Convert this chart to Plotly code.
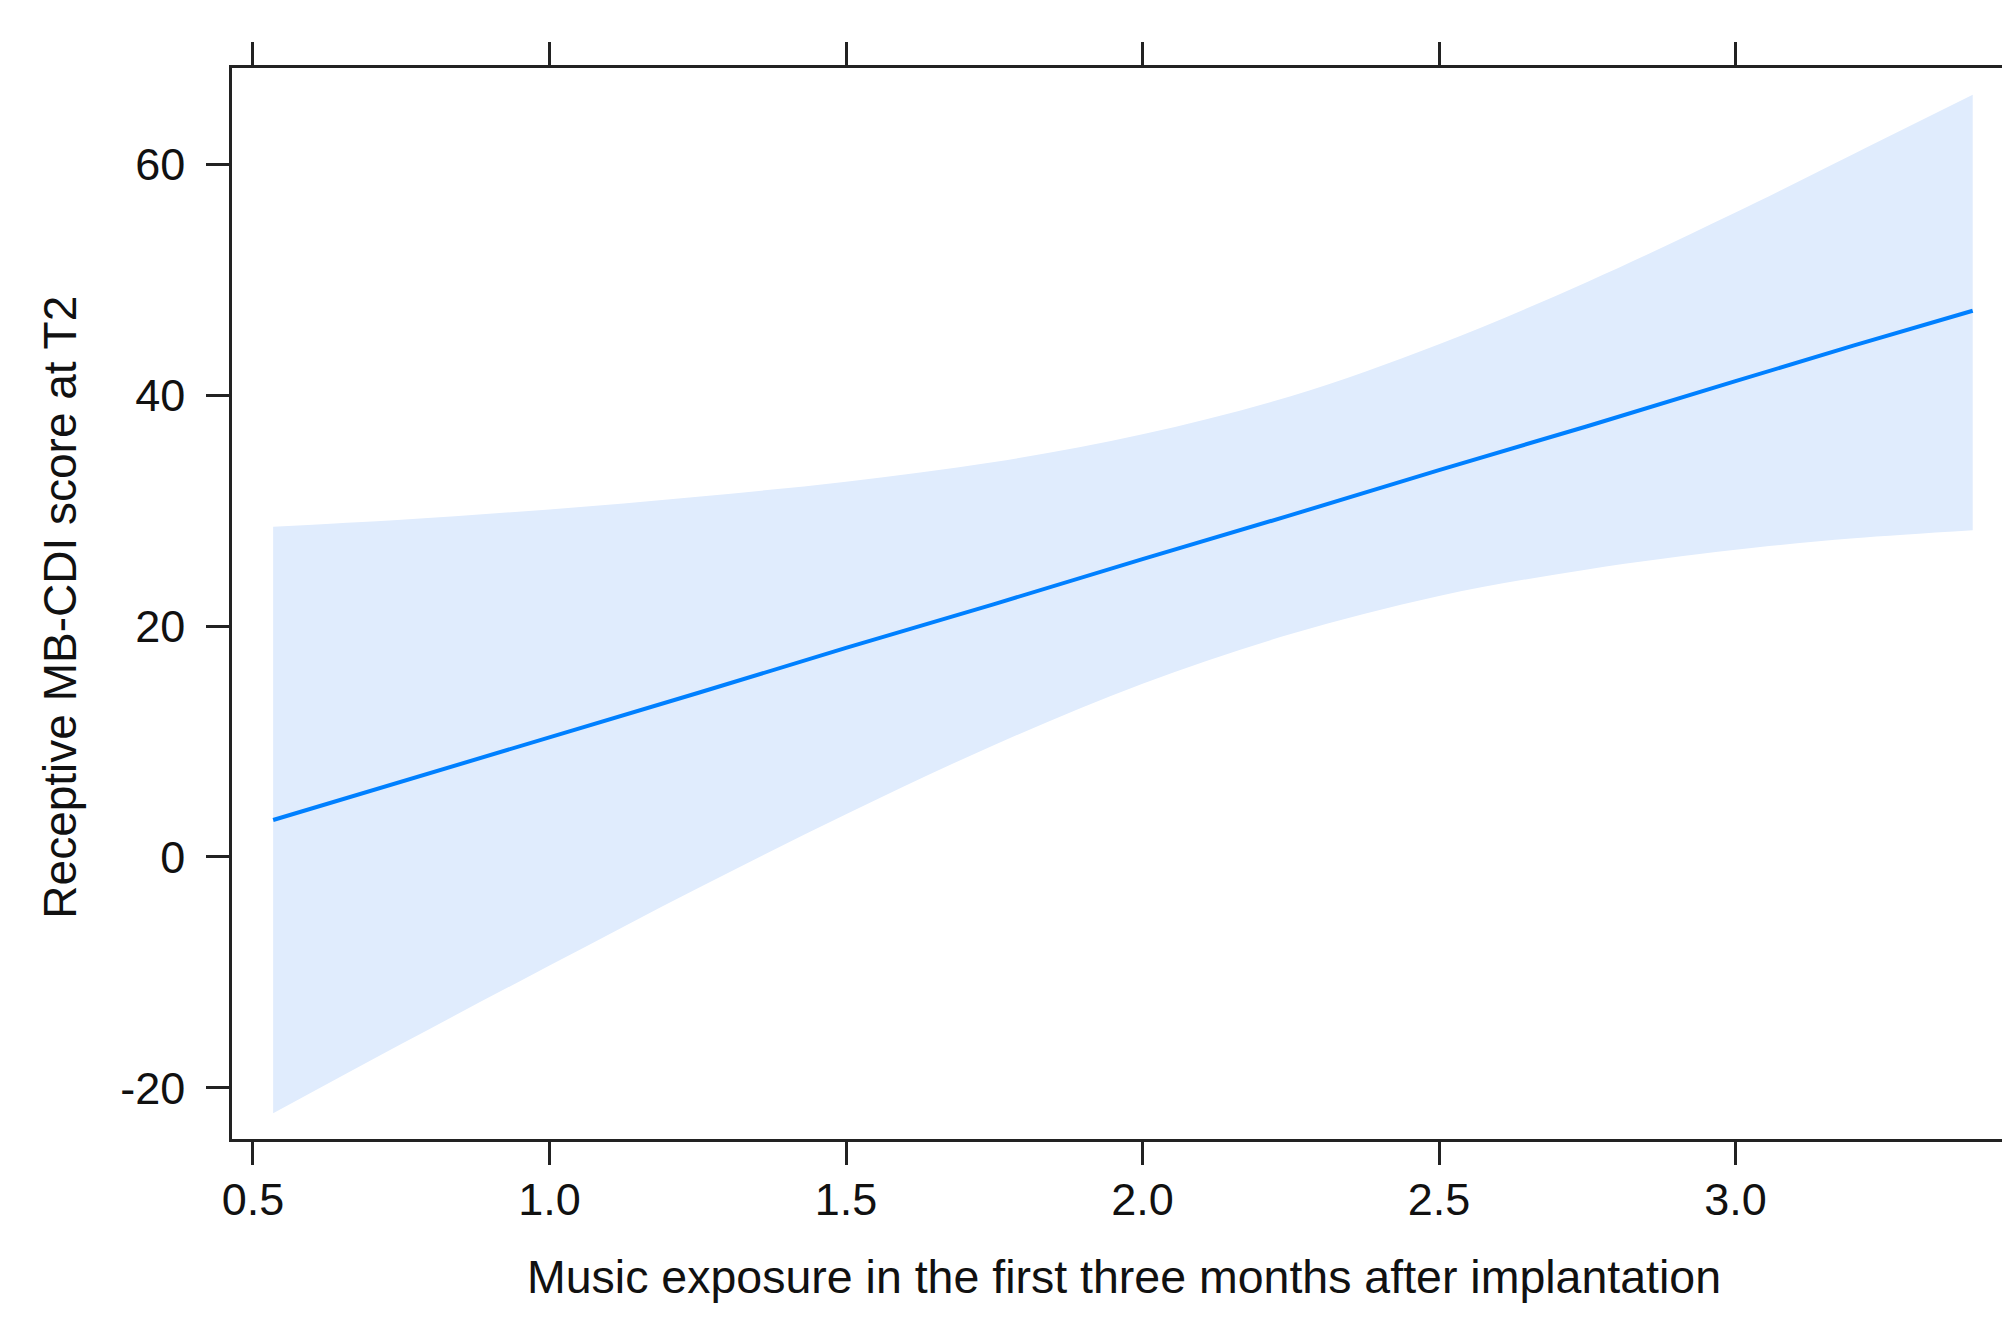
import plotly.graph_objects as go

# Data
x_vals = [0.534, 0.75, 1.0, 1.25, 1.5, 1.75, 2.0, 2.25, 2.5, 2.75, 3.0, 3.2, 3.40]
fit = [3.2, 6.5, 10.4, 14.2, 18.1, 21.9, 25.8, 29.6, 33.5, 37.3, 41.2, 44.3, 47.3]
upper = [28.6, 29.2, 30.1, 31.2, 32.5, 34.2, 36.6, 39.9, 44.4, 49.8, 55.8, 60.9, 66.0]
lower = [-22.2, -16.2, -9.4, -2.7, 3.7, 9.7, 15.0, 19.3, 22.6, 24.9, 26.6, 27.6, 28.3]

x_ticks = [0.5, 1.0, 1.5, 2.0, 2.5, 3.0]
x_tick_text = ["0.5", "1.0", "1.5", "2.0", "2.5", "3.0"]
y_ticks = [-20, 0, 20, 40, 60]
y_tick_text = ["-20", "0", "20", "40", "60"]

x_title = "Music exposure in the first three months after implantation"
y_title = "Receptive MB-CDI score at T2"

FONT = "Liberation Sans, Arial, Helvetica, sans-serif"
AX = "#222222"
TXT = "#111111"

fig = go.Figure()
fig.add_trace(go.Scatter(x=x_vals, y=lower, mode="lines", line=dict(width=0, shape="spline"),
                         hoverinfo="skip", showlegend=False))
fig.add_trace(go.Scatter(x=x_vals, y=upper, mode="lines", line=dict(width=0, shape="spline"),
                         fill="tonexty", fillcolor="rgb(224,236,253)",
                         hoverinfo="skip", showlegend=False))
fig.add_trace(go.Scatter(x=x_vals, y=fit, mode="lines", line=dict(color="#0080FF", width=4),
                         showlegend=False))

fig.update_layout(
    width=2002, height=1319, autosize=False,
    margin=dict(l=232, r=0, t=68, b=180),
    paper_bgcolor="white", plot_bgcolor="white",
    font=dict(family=FONT, size=45, color=TXT),
    xaxis=dict(range=[0.4646, 3.4494], tickvals=x_ticks, ticktext=x_tick_text,
               showgrid=False, zeroline=False, showline=True, linecolor=AX, linewidth=2.5,
               mirror="ticks", ticks="outside", ticklen=23, tickwidth=2.5, tickcolor=AX,
               ticklabelstandoff=-4, tickfont=dict(size=45, family=FONT, color=TXT)),
    yaxis=dict(range=[-24.42, 68.32], tickvals=y_ticks, ticktext=y_tick_text,
               showgrid=False, zeroline=False, showline=True, linecolor=AX, linewidth=2.5,
               ticks="outside", ticklen=23, tickwidth=2.5, tickcolor=AX,
               ticklabelstandoff=12, tickfont=dict(size=45, family=FONT, color=TXT)),
    annotations=[
        dict(text=x_title, xref="paper", yref="paper", x=0.504, y=-0.1287,
             xanchor="center", yanchor="middle", showarrow=False,
             font=dict(size=46.5, family=FONT, color=TXT)),
        dict(text=y_title, xref="paper", yref="paper", x=-0.0972, y=0.497,
             xanchor="center", yanchor="middle", showarrow=False, textangle=-90,
             font=dict(size=46, family=FONT, color=TXT)),
    ],
)

fig.write_html("out.html", config={"displayModeBar": False},
               post_script="document.body.style.margin='0';document.body.style.overflow='hidden';")
